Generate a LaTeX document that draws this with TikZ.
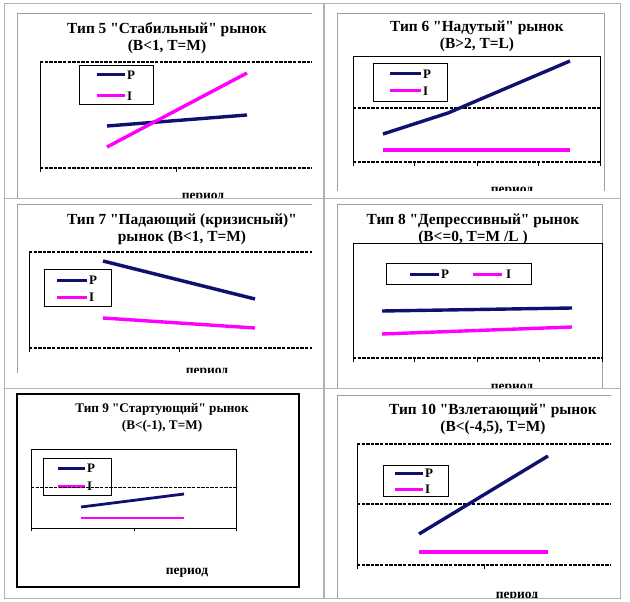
\documentclass[tikz,border=0pt]{standalone}
\usepackage{fontspec}
\setmainfont{Liberation Serif}[Ligatures=TeXOff]
\begin{document}
\begin{tikzpicture}[x=1pt,y=-1pt,
  ttl/.style={font=\bfseries\fontsize{15.4}{17}\selectfont, align=center, inner sep=0pt},
  ttls/.style={font=\bfseries\fontsize{13.2}{17}\selectfont, align=center, inner sep=0pt},
  lgd/.style={font=\bfseries\fontsize{13}{13}\selectfont, anchor=west, inner sep=0pt},
  xlab/.style={font=\bfseries\fontsize{13.5}{13.5}\selectfont, inner sep=0pt},
  pline/.style={draw=pnavy, line width=3.4pt},
  iline/.style={draw=imag, line width=3.4pt},
  lgline/.style={line width=3pt},
  gdash/.style={draw=black, dash pattern=on 3.4pt off 1.2pt, line width=1.1pt},
  axis/.style={draw=black, line width=1pt},
  tick/.style={draw=black, line width=0.9pt},
  frm/.style={draw=gray!75, line width=0.9pt},
  box/.style={draw=black, line width=0.9pt, fill=white},
  tbl/.style={draw=gray!60, line width=1pt}]
\definecolor{pnavy}{RGB}{16,16,110}
\definecolor{imag}{RGB}{255,0,255}
\useasboundingbox (0,0) rectangle (630,602);

% ---------- Chart 5 ----------
\begin{scope}
\clip (8,8) rectangle (312,197);
\draw[frm] (17,13) rectangle (340,260);
\node[ttl] (t5) at (167,38.5) {Тип 5 "Стабильный" рынок\\(B<1, T=M)};
\draw[gdash] (40,62) -- (312,62);
\draw[axis] (40,62) -- (40,168);
\draw[gdash] (40,168) -- (312,168);
\draw[tick] (40,168) -- (40,172) (176,168) -- (176,172);
\draw[box] (79,65) rectangle (153,104);
\draw[pnavy,lgline] (97,75) -- (125,75);
\node[lgd] (l5p) at (127,75) {P};
\draw[imag,lgline] (97,96) -- (125,96);
\node[lgd] (l5i) at (127,96) {I};
\draw[pline] (107,126) -- (247,115);
\draw[iline] (107,147) -- (247,73);
\node[xlab] (x5) at (203,197.5) {период};
\end{scope}

% ---------- Chart 6 ----------
\begin{scope}
\clip (330,8) rectangle (612,190.5);
\draw[frm] (337,13) rectangle (604,260);
\node[ttl] (t6) at (477,36.5) {Тип 6 "Надутый" рынок\\(B>2, T=L)};
\draw[axis] (353,162) -- (353,57) -- (600,57) -- (600,162);
\draw[gdash] (353,108) -- (600,108);
\draw[gdash] (353,162) -- (600,162);
\foreach \tx in {353,414,477,538,600} \draw[tick] (\tx,162) -- (\tx,166);
\draw[box] (373,63) rectangle (447,101);
\draw[pnavy,lgline] (390,74) -- (421,74);
\node[lgd] (l6p) at (423,74) {P};
\draw[imag,lgline] (390,91) -- (421,91);
\node[lgd] (l6i) at (423,91) {I};
\draw[pline] (383,134) -- (448,113) -- (570,61);
\draw[iline] (383,150) -- (570,150);
\node[xlab] (x6) at (512,191.5) {период};
\end{scope}

% ---------- Chart 7 ----------
\begin{scope}
\clip (8,200) rectangle (312,372.5);
\draw[frm] (17,204) rectangle (340,450);
\node[ttl] (t7) at (182,229) {Тип 7 "Падающий (кризисный)"\\рынок (B<1, T=M)};
\draw[gdash] (29,252) -- (312,252);
\draw[axis] (29,252) -- (29,348);
\draw[gdash] (29,348) -- (312,348);
\draw[tick] (29,348) -- (29,352) (179,348) -- (179,352);
\draw[box] (44,269) rectangle (111,306);
\draw[pnavy,lgline] (57,280) -- (87,280);
\node[lgd] (l7p) at (89,280) {P};
\draw[imag,lgline] (57,297) -- (87,297);
\node[lgd] (l7i) at (89,297) {I};
\draw[pline] (103,261) -- (255,299);
\draw[iline] (103,318) -- (255,328);
\node[xlab] (x7) at (207,373) {период};
\end{scope}

% ---------- Chart 8 ----------
\begin{scope}
\clip (330,200) rectangle (603,388);
\draw[frm] (337,204) rectangle (602,450);
\node[ttl] (t8) at (473,229) {Тип 8 "Депрессивный" рынок\\(B<=0, T=M /L )};
\fill[white] (353,243) rectangle (602,358);
\draw[axis] (353,358) -- (353,243) -- (602,243) -- (602,358);
\draw[gdash] (353,358) -- (602,358);
\foreach \tx in {353,414,477,539,602} \draw[tick] (\tx,358) -- (\tx,362);
\draw[box] (386,263) rectangle (531,284);
\draw[pnavy,lgline] (410,274) -- (439,274);
\node[lgd] (l8p) at (441,274) {P};
\draw[imag,lgline] (473,274) -- (502,274);
\node[lgd] (l8i) at (506,274) {I};
\draw[pline] (382,311) -- (572,308);
\draw[iline] (382,334) -- (572,327);
\node[xlab] (x8) at (512,389) {период};
\end{scope}

% ---------- Chart 9 ----------
\draw[draw=black, line width=1.2pt] (17,394) rectangle (299,587);
\node[ttls] (t9) at (162,417.5) {Тип 9 "Стартующий" рынок\\(B<(-1), T=M)};
\draw[axis] (31,449) rectangle (236,528);
\foreach \tx in {31,134,236} \draw[tick] (\tx,528) -- (\tx,531);
\draw[box] (43,458) rectangle (111,495);
\draw[pnavy,lgline] (58,468) -- (85,468);
\node[lgd] (l9p) at (87,468) {P};
\draw[imag,lgline] (58,486) -- (85,486);
\node[lgd] (l9i) at (87,486) {I};
\draw[gdash, line width=0.9pt] (31,487) -- (236,487);
\draw[pline, line width=2.8pt] (81,507) -- (184,494);
\draw[iline, line width=2.8pt] (81,518) -- (184,518);
\node[xlab] (x9) at (187,573) {период};

% ---------- Chart 10 ----------
\begin{scope}
\clip (330,390) rectangle (611,597);
\draw[frm] (337,395) rectangle (640,650);
\node[ttl] (t10) at (493,419) {Тип 10 "Взлетающий" рынок\\(B<(-4,5), T=M)};
\draw[gdash] (357,444) -- (611,444);
\draw[gdash] (357,504) -- (611,504);
\draw[gdash] (357,565) -- (611,565);
\draw[axis] (357,444) -- (357,565);
\draw[tick] (357,565) -- (357,569) (484,565) -- (484,569);
\draw[box] (383,465) rectangle (448,496);
\draw[pnavy,lgline] (395,473) -- (423,473);
\node[lgd] (l10p) at (425,473) {P};
\draw[imag,lgline] (395,489) -- (423,489);
\node[lgd] (l10i) at (425,489) {I};
\draw[pline] (419,534) -- (548,456);
\draw[iline] (419,552) -- (548,552);
\node[xlab] (x10) at (517,597) {период};
\end{scope}

% ---------- table ----------
\draw[tbl] (4,4) rectangle (620,598);
\draw[tbl, line width=1.5pt] (324,4) -- (324,598);
\draw[tbl] (4,198.5) -- (620,198.5);
\draw[tbl] (4,388) -- (620,388);
\end{tikzpicture}
\end{document}
